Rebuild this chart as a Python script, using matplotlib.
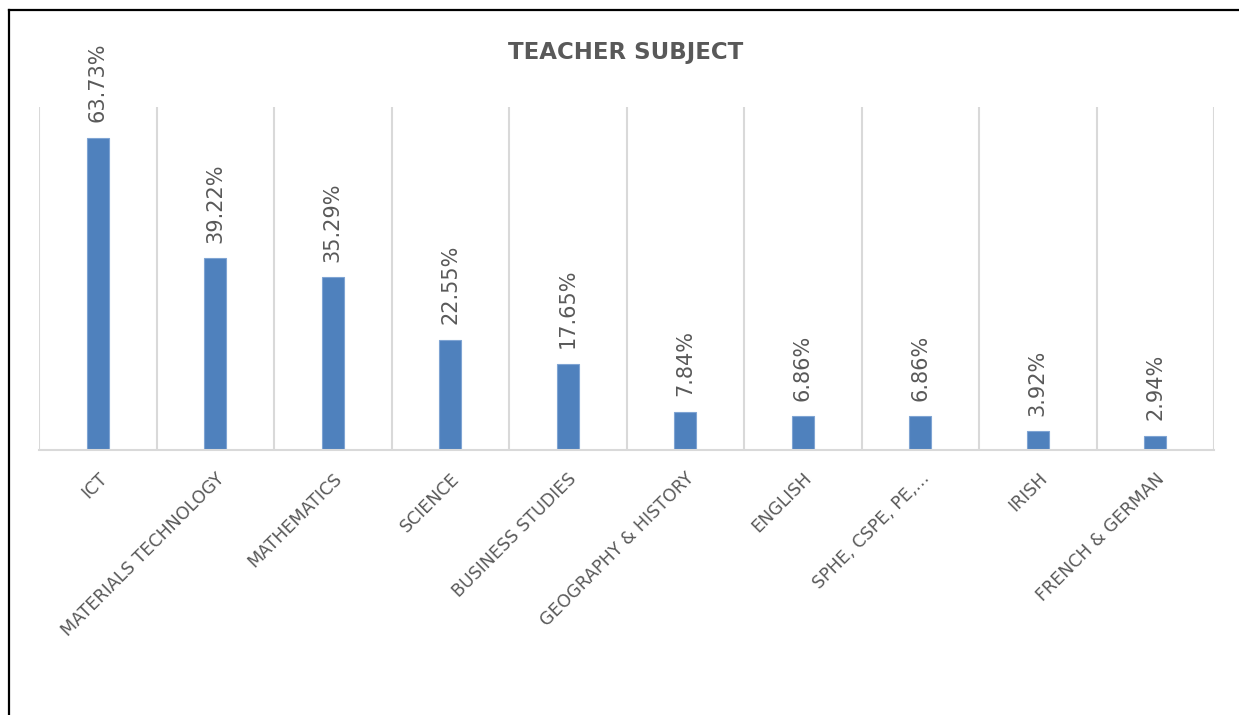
import matplotlib
matplotlib.use("Agg")
import matplotlib.pyplot as plt
from matplotlib.lines import Line2D

categories = ["ICT", "MATERIALS TECHNOLOGY", "MATHEMATICS", "SCIENCE",
              "BUSINESS STUDIES", "GEOGRAPHY & HISTORY", "ENGLISH",
              "SPHE, CSPE, PE,…", "IRISH", "FRENCH & GERMAN"]
values = [63.73, 39.22, 35.29, 22.55, 17.65, 7.84, 6.86, 6.86, 3.92, 2.94]
title = "TEACHER SUBJECT"

plt.rcParams['font.family'] = ['DejaVu Sans']
TXT = '#595959'
BAR = '#4F81BD'
GRID = '#D9D9D9'

fig = plt.figure(figsize=(12.39, 7.15), dpi=100)
ax = fig.add_axes([39/1239, 1-450/715, (1214-39)/1239, (450-107)/715])

x = list(range(len(categories)))
ax.bar(x, values, width=0.187, color=BAR, edgecolor='#7FA4D3', linewidth=0.8, zorder=3)
ax.set_xlim(-0.5, len(categories)-0.5)
ax.set_ylim(0, 70)

for b in range(len(categories)+1):
    ax.axvline(b-0.5, color=GRID, linewidth=1.5, zorder=1)

for s in ['top', 'left', 'right']:
    ax.spines[s].set_visible(False)
ax.spines['bottom'].set_color(GRID)
ax.spines['bottom'].set_linewidth(1.5)
ax.spines['bottom'].set_zorder(4)
ax.set_yticks([])
ax.set_xticks(x)
ax.set_xticklabels(categories, rotation=45, ha='right', rotation_mode='anchor',
                   fontsize=12.5, color=TXT)
ax.tick_params(axis='x', length=0, pad=14)

for xi, v in zip(x, values):
    ax.annotate(f"{v:.2f}%", (xi, v), xytext=(0, 11), textcoords='offset points',
                rotation=90, ha='center', va='bottom', fontsize=15, color=TXT)

fig.text(626/1239, 1-53/715, title, ha='center', va='center', fontsize=16.5,
         fontweight='bold', color=TXT)

# outer border (top and left)
fig.add_artist(Line2D([9/1239, 1], [1-10/715, 1-10/715], transform=fig.transFigure,
                      color='black', linewidth=1.6))
fig.add_artist(Line2D([9/1239, 9/1239], [0, 1-10/715], transform=fig.transFigure,
                      color='black', linewidth=1.6))

fig.savefig("out.png", dpi=100, facecolor='white')
